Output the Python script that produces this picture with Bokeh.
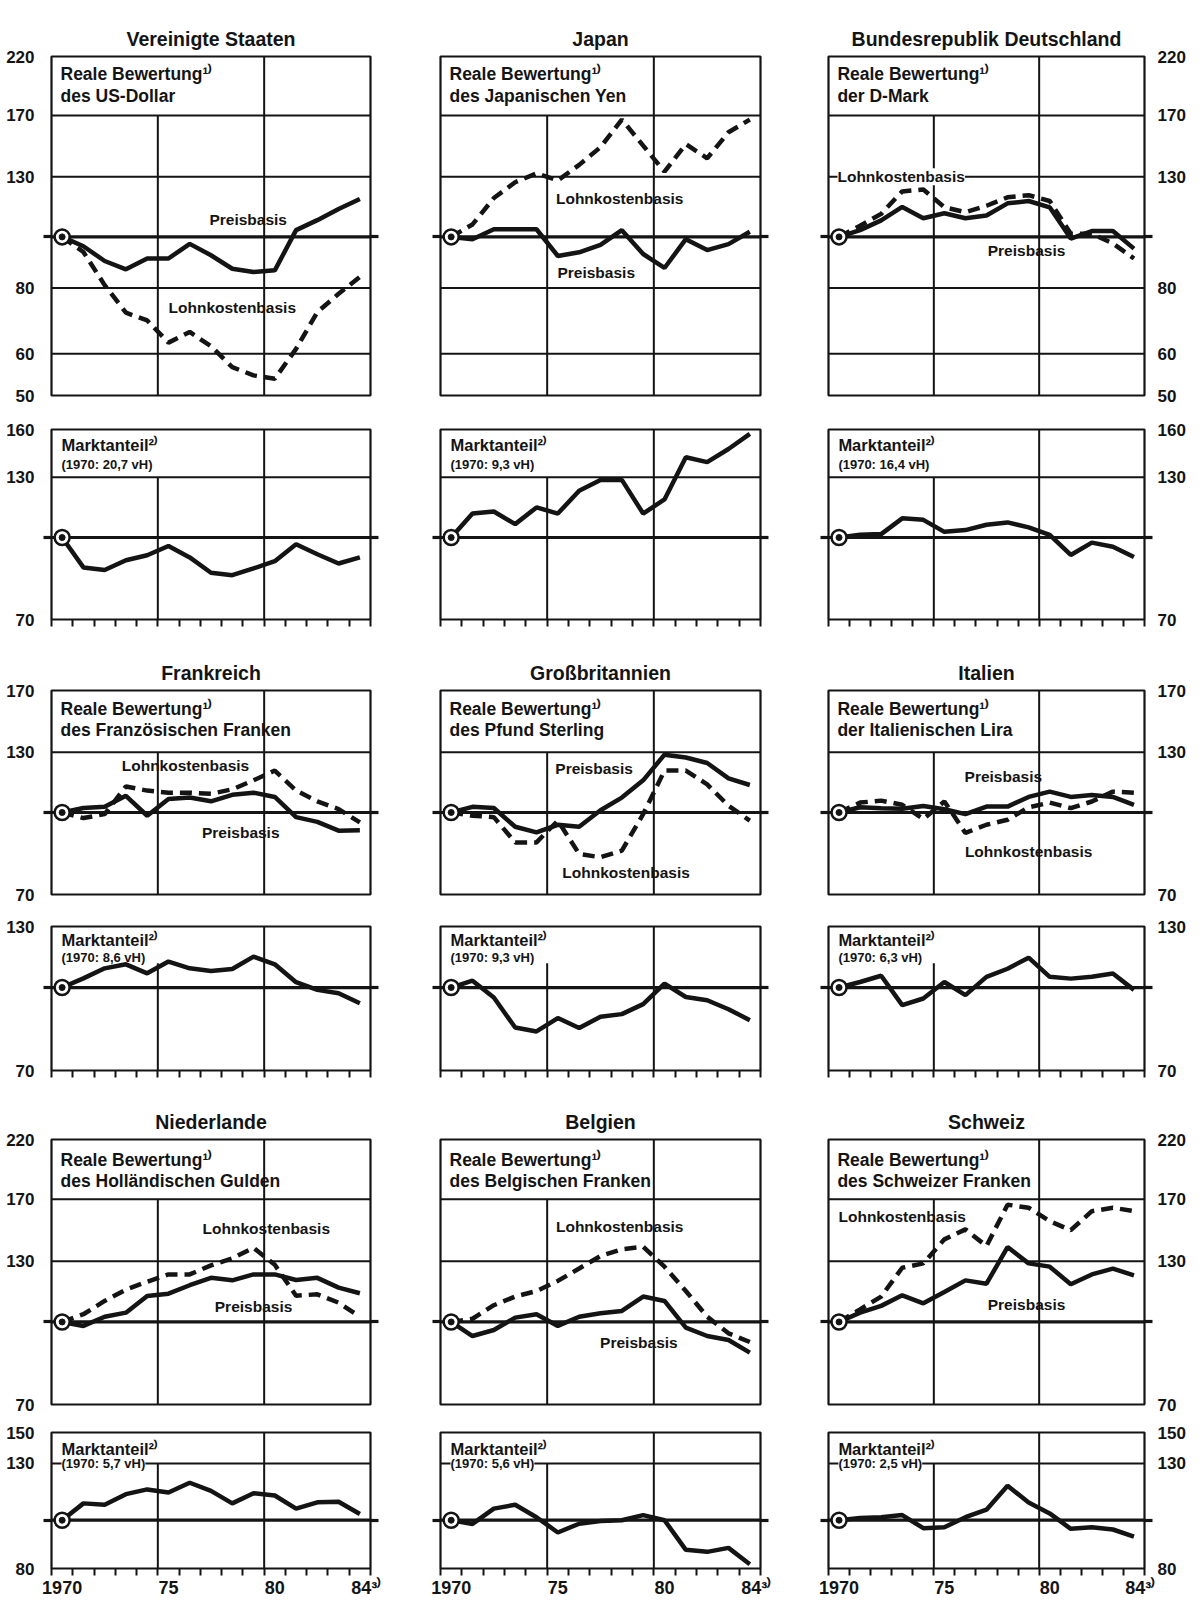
import math
from bokeh.plotting import figure
from bokeh.layouts import column, row
from bokeh.models import Range1d, FixedTicker, LogAxis, LinearAxis, Label, PrintfTickFormatter
from bokeh.embed import file_html
from bokeh.resources import INLINE

# ---------------- data ----------------
YEARS = list(range(1970, 1985))

COUNTRIES = ["Vereinigte Staaten", "Japan", "Bundesrepublik Deutschland",
             "Frankreich", "Großbritannien", "Italien",
             "Niederlande", "Belgien", "Schweiz"]
CURRENCIES = ["des US-Dollar", "des Japanischen Yen", "der D-Mark",
              "des Französischen Franken", "des Pfund Sterling", "der Italienischen Lira",
              "des Holländischen Gulden", "des Belgischen Franken", "des Schweizer Franken"]
SHARE_1970 = ["20,7", "9,3", "16,4", "8,6", "9,3", "6,3", "5,7", "5,6", "2,5"]

XTICK_LABELS = ["1970", "75", "80", "84³⁾"]

US_PREIS = [100, 96, 90, 86.8, 91, 91, 97, 92.3, 87, 85.8, 86.4, 103, 107.6, 113, 118]
US_LOHN = [100, 93.6, 81, 71.8, 69.4, 63, 66, 62, 56.6, 54.6, 53.8, 61.3, 72, 78, 84]
US_MARKT = [100, 87.8, 86.8, 90.6, 92.6, 96.4, 91.7, 85.8, 84.9, 87.4, 90.2, 97.1, 93, 89.3, 91.7]

JP_PREIS = [100, 99, 103.4, 103.4, 103.4, 92, 93.5, 96.6, 103, 92.8, 87.3, 99, 94.4, 96.9, 102.3]
JP_LOHN = [100, 105.6, 118.5, 127, 132, 128, 137, 148, 167, 149, 133, 150, 141, 158, 167]
JP_MARKT = [100, 111, 112, 106, 114, 111, 122.6, 128.5, 128.5, 111, 118, 141.8, 138.8, 147, 157]

DE_PREIS = [100, 103, 107.5, 114, 108.5, 110.9, 108.5, 109.8, 115.8, 117, 113.8, 99.3, 102.6, 102.6, 95]
DE_LOHN = [100, 105, 110.6, 122, 123, 113.8, 111.4, 114.6, 118.9, 120, 117, 101.4, 101.4, 97.2, 91]
DE_MARKT = [100, 101.2, 101.5, 108.7, 108, 102.5, 103.3, 105.7, 106.8, 104.5, 101.2, 92.7, 97.8, 96.1, 91.9]

FR_PREIS = [100, 102, 102.5, 107.5, 98.6, 106, 106.7, 105, 108, 109, 107, 98, 96, 92.4, 92.6]
FR_LOHN = [100, 97.6, 99.3, 112, 110, 109, 109, 108.5, 110.6, 115, 120, 110, 105, 101.5, 95.8]
FR_MARKT = [100, 104, 108.6, 110.5, 106.3, 111.8, 108.6, 107.4, 108.3, 114.2, 110.5, 102.3, 99, 97.6, 93.5]

GB_PREIS = [100, 102.5, 102, 94, 91.7, 94.8, 94, 101, 106.7, 115, 128.6, 127, 124, 116, 112.7]
GB_LOHN = [100, 98.6, 98, 87.8, 87.8, 96.5, 83.5, 82.3, 84.7, 99.3, 120, 120, 113, 103, 96.5]
GB_MARKT = [100, 103, 95.8, 84.2, 82.8, 87.7, 84, 88.2, 89.2, 93.1, 101.7, 96, 94.7, 91.1, 86.9]

IT_PREIS = [100, 102.3, 101.9, 101.6, 102.9, 101.4, 99.3, 102.6, 102.6, 107, 109.5, 107, 107.9, 107, 103.4]
IT_LOHN = [100, 104.4, 105.3, 103.4, 97.2, 104.9, 91.5, 94.8, 96.9, 102.3, 104.4, 101.9, 104.9, 109.5, 109]
IT_MARKT = [100, 102.4, 105.2, 92.7, 95.4, 102.4, 96.8, 104.7, 108.4, 113.7, 104.7, 103.9, 104.7, 106.2, 99]

NL_PREIS = [100, 98.3, 102.3, 104.1, 111.9, 113, 117.2, 121, 119.7, 122.8, 122.8, 119.9, 121, 116, 113.2]
NL_LOHN = [100, 103.4, 109.5, 115, 119, 122.8, 122.8, 127.7, 131.6, 137.8, 128, 112, 112.7, 108.7, 102.3]
NL_MARKT = [100, 108.1, 107.4, 112.8, 115.3, 113.7, 118.9, 114.5, 108.1, 113.3, 112.1, 105.5, 108.6, 108.9, 102.9]

BE_PREIS = [100, 94.1, 96.6, 101.9, 103.4, 98.3, 102.3, 103.8, 104.9, 111.6, 109.5, 97.6, 94.1, 92.5, 87.6]
BE_LOHN = [100, 101.4, 107.5, 111.6, 114.3, 119.4, 126, 133, 136.9, 138.4, 127, 114.3, 102.3, 95.2, 91.7]
BE_MARKT = [100, 98.3, 105.5, 107.4, 101.4, 94.5, 98.4, 99.6, 100, 102.4, 100, 87.2, 86.4, 88, 81.6]

CH_PREIS = [100, 104.1, 107.2, 112.2, 108.4, 113.8, 119.7, 118, 138.2, 128.8, 127, 117.7, 122.8, 125.9, 122.3]
CH_LOHN = [100, 105.6, 111.6, 126.4, 128.8, 142.9, 149.2, 138.8, 166, 163.8, 154.6, 148.7, 161.4, 163.8, 161.4]
CH_MARKT = [100, 101, 101.4, 102.4, 96.4, 96.8, 101.4, 105, 117.3, 108.5, 103.2, 96.1, 96.8, 95.8, 92.7]

PREIS = [US_PREIS, JP_PREIS, DE_PREIS, FR_PREIS, GB_PREIS, IT_PREIS, NL_PREIS, BE_PREIS, CH_PREIS]
LOHN = [US_LOHN, JP_LOHN, DE_LOHN, FR_LOHN, GB_LOHN, IT_LOHN, NL_LOHN, BE_LOHN, CH_LOHN]
MARKT = [US_MARKT, JP_MARKT, DE_MARKT, FR_MARKT, GB_MARKT, IT_MARKT, NL_MARKT, BE_MARKT, CH_MARKT]

# ---------------- style / layout ----------------
FONT = "Liberation Sans"
INK = "#141414"
XTICK_POS = [1970.5, 1975.5, 1980.5, 1984.8]

SERIES_LABEL_POS = [
    {"Preisbasis": (1979.25, 107.7), "Lohnkostenbasis": (1978.5, 73.6)},
    {"Lohnkostenbasis": (1978.4, 118.5), "Preisbasis": (1977.3, 85.7)},
    {"Lohnkostenbasis": (1973.45, 130), "Preisbasis": (1979.4, 94.1)},
    {"Lohnkostenbasis": (1976.3, 122.5), "Preisbasis": (1978.9, 91.7)},
    {"Preisbasis": (1977.2, 121), "Lohnkostenbasis": (1978.7, 77)},
    {"Preisbasis": (1978.3, 117), "Lohnkostenbasis": (1979.5, 84.5)},
    {"Lohnkostenbasis": (1980.1, 150), "Preisbasis": (1979.5, 107)},
    {"Lohnkostenbasis": (1978.4, 151), "Preisbasis": (1979.3, 91.7)},
    {"Lohnkostenbasis": (1973.5, 157.6), "Preisbasis": (1979.4, 108)},
]

# kind, ylo, yhi, labelled ticks (100 drawn bold separately), grid lines,
# bottom of text box, frame height, border top, border bottom, text offsets (px)
ROW_SPECS = [
    ("upper", 50, 220, [50, 60, 80, 130, 170, 220], [60, 80, 130, 170], 170, 339, 56, 17, (7, 29)),
    ("lower", 70, 160, [70, 130, 160], [130], 130, 190, 17, 30, (6, 27)),
    ("upper", 70, 170, [70, 130, 170], [130], 130, 204, 41, 16, (8, 29)),
    ("lower", 70, 130, [70, 130], [], 111, 144, 16, 30, (4, 23)),
    ("upper", 70, 220, [70, 130, 170, 220], [130, 170], 170, 265, 39, 14, (10, 31)),
    ("lower", 80, 150, [80, 130, 150], [130], 130, 148, 14, 20, (8, 26)),
]
COL_SPECS = [(51, 319, 35), (35, 320, 33), (35, 320, 40)]


def txt(size, bold=True, **kw):
    d = dict(text_font=FONT, text_font_size=f"{size}px", text_color=INK,
             text_font_style="bold" if bold else "normal")
    d.update(kw)
    return d


def stub_axis():
    return LogAxis(ticker=FixedTicker(ticks=[100], minor_ticks=[]),
                   formatter=PrintfTickFormatter(format="%d"),
                   major_tick_in=0, major_tick_out=8, major_tick_line_width=3.2,
                   major_tick_line_color=INK, axis_line_color=None,
                   minor_tick_line_color=None, major_label_text_font_size="2px",
                   major_label_text_alpha=0, major_label_standoff=0)


def label_axis(ticks, standoff):
    return LogAxis(ticker=FixedTicker(ticks=ticks, minor_ticks=[]),
                   formatter=PrintfTickFormatter(format="%d"),
                   major_tick_in=0, major_tick_out=0, axis_line_color=None,
                   minor_tick_line_color=None, major_label_standoff=standoff,
                   major_label_text_font=FONT, major_label_text_font_size="17px",
                   major_label_text_font_style="bold", major_label_text_color=INK)


def panel(ri, ci):
    kind, ylo, yhi, lab_ticks, grid, box_bottom, fh, btop, bbot, tdy = ROW_SPECS[ri]
    left, fw, right = COL_SPECS[ci]
    k = (ri // 2) * 3 + ci
    ppd = fh / math.log10(yhi / ylo)
    p = figure(width=left + fw + right, height=btop + fh + bbot,
               x_range=Range1d(1970, 1985), y_range=Range1d(ylo, yhi),
               y_axis_type="log", x_axis_location=None, y_axis_location=None,
               toolbar_location=None, output_backend="svg",
               title=COUNTRIES[k] if kind == "upper" else None,
               min_border_left=left, min_border_right=right,
               min_border_top=btop, min_border_bottom=bbot,
               outline_line_color=INK, outline_line_width=2.2,
               background_fill_color="white", border_fill_color="white")
    p.xgrid.visible = False
    p.ygrid.visible = False

    def X(dx):
        return 1970 + dx * 15.0 / fw

    def Y(v, dy):
        return v * 10 ** (-dy / ppd)

    if kind == "upper":
        p.title.align = "center"
        p.title.text_font = FONT
        p.title.text_font_size = "19.5px"
        p.title.text_font_style = "bold"
        p.title.text_color = INK
        p.title.standoff = 14

    if grid:
        p.segment(x0=[1970] * len(grid), x1=[1985] * len(grid), y0=grid, y1=grid,
                  line_color=INK, line_width=2)
    p.segment(x0=[1975, 1980], x1=[1975, 1980], y0=[ylo, ylo], y1=[box_bottom, yhi],
              line_color=INK, line_width=2)
    p.segment(x0=[1970], x1=[1985], y0=[100], y1=[100], line_color=INK, line_width=3.2)

    p.add_layout(stub_axis(), "left")
    p.add_layout(stub_axis(), "right")
    if ci == 0:
        p.add_layout(label_axis(lab_ticks, 9), "left")
        p.add_layout(Label(x=X(-16), y=100, text="100", text_align="right",
                           text_baseline="middle", **txt(19)))
    if ci == 2:
        p.add_layout(label_axis(lab_ticks, 5), "right")
        p.add_layout(Label(x=X(fw + 9), y=100, text="100", text_align="left",
                           text_baseline="middle", **txt(19)))
    if kind == "lower":
        last = ri == len(ROW_SPECS) - 1
        xa = LinearAxis(ticker=FixedTicker(ticks=XTICK_POS if last else [],
                                           minor_ticks=list(range(1970, 1986))),
                        major_tick_in=0, major_tick_out=0,
                        minor_tick_in=0, minor_tick_out=7, minor_tick_line_width=2,
                        minor_tick_line_color=INK, axis_line_color=None,
                        major_label_standoff=2, major_label_text_font=FONT,
                        major_label_text_font_size="18px", major_label_text_font_style="bold",
                        major_label_text_color=INK)
        if last:
            xa.major_label_overrides = dict(zip(XTICK_POS, XTICK_LABELS))
        p.add_layout(xa, "below")

    xs = [y + 0.5 for y in YEARS]
    if kind == "upper":
        p.line(xs, LOHN[k], line_color=INK, line_width=4.5, line_dash="12 7")
        p.line(xs, PREIS[k], line_color=INK, line_width=4.5)
        first = PREIS[k][0]
    else:
        p.line(xs, MARKT[k], line_color=INK, line_width=4.5)
        first = MARKT[k][0]
    p.scatter([xs[0]], [first], size=15, fill_color="white", line_color=INK, line_width=2.5)
    p.scatter([xs[0]], [first], size=6, fill_color=INK, line_color=INK)

    if kind == "upper":
        p.add_layout(Label(x=X(9), y=Y(yhi, tdy[0]), text="Reale Bewertung¹⁾",
                           text_baseline="top", **txt(17.5)))
        p.add_layout(Label(x=X(9), y=Y(yhi, tdy[1]), text=CURRENCIES[k],
                           text_baseline="top", **txt(17.5)))
        for name, (lx, ly) in SERIES_LABEL_POS[k].items():
            extra = {}
            if k == 2 and name == "Lohnkostenbasis":
                extra = dict(background_fill_color="white")
            p.add_layout(Label(x=lx, y=ly, text=name, text_align="center",
                               text_baseline="middle", **txt(15.5), **extra))
    else:
        p.add_layout(Label(x=X(10), y=Y(yhi, tdy[0]), text="Marktanteil²⁾",
                           text_baseline="top", **txt(16.5)))
        extra = dict(background_fill_color="white") if ri == 5 else {}
        p.add_layout(Label(x=X(10), y=Y(yhi, tdy[1]), text=f"(1970: {SHARE_1970[k]} vH)",
                           text_baseline="top", **txt(13), **extra))

    if ri == 0 and ci == 0:
        p.add_layout(Label(x=X(-46), y=Y(yhi, -50), text="Log.", text_baseline="top",
                           **txt(14)))
        p.add_layout(Label(x=X(-46), y=Y(yhi, -34), text="Maßstab", text_baseline="top",
                           **txt(14)))
    if ri == 0 and ci == 2:
        p.add_layout(Label(x=X(fw + right - 1), y=Y(yhi, -50), text="Log.",
                           text_baseline="top", text_align="right", **txt(14)))
        p.add_layout(Label(x=X(fw + right - 1), y=Y(yhi, -34), text="Maßstab",
                           text_baseline="top", text_align="right", **txt(14)))
    return p


rows = []
for ri in range(len(ROW_SPECS)):
    rows.append(row(*[panel(ri, ci) for ci in range(3)], spacing=0))
layout = column(*rows, spacing=0)

open("out.html", "w").write(file_html(layout, INLINE, title="Reale Bewertung und Marktanteil"))
